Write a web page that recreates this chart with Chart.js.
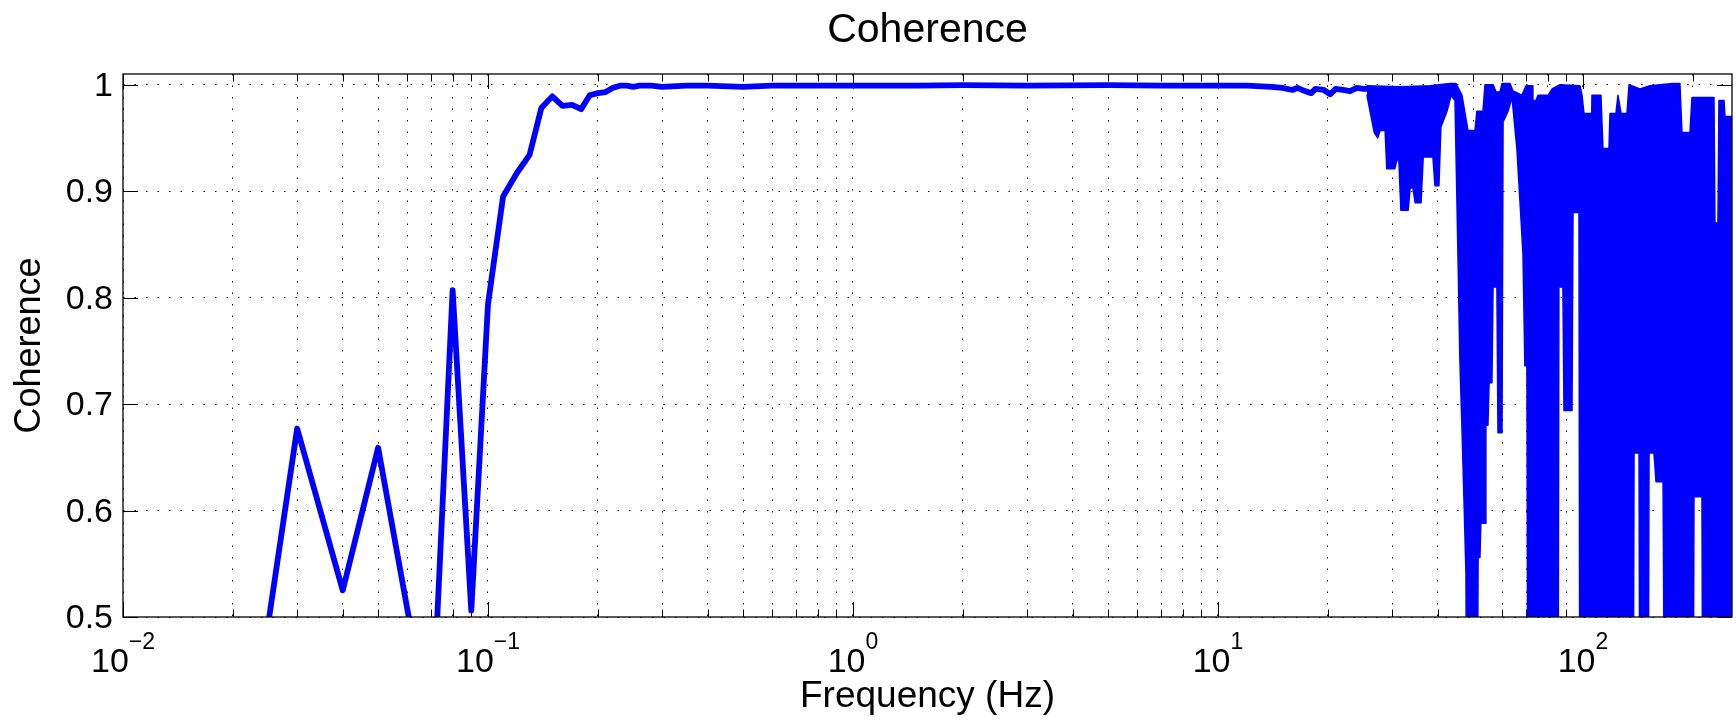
<!DOCTYPE html>
<html>
<head>
<meta charset="utf-8">
<title>Coherence</title>
<script src="https://cdn.jsdelivr.net/npm/chart.js@4.4.1/dist/chart.umd.min.js"></script>
<style>
  html, body { margin: 0; padding: 0; background: #fff; }
  #wrap { width: 1736px; height: 722px; position: relative; }
</style>
</head>
<body>
<div id="wrap"><canvas id="myChart"></canvas></div>
<script>
// coherence up to ~25 Hz
var lowFreq = [0.01, 0.02, 0.03, 0.04, 0.05, 0.06, 0.07, 0.08, 0.09, 0.10,
  0.11, 0.12, 0.13, 0.14, 0.15, 0.16, 0.17, 0.18, 0.19, 0.20,
  0.21, 0.22, 0.23, 0.24, 0.25, 0.26, 0.28, 0.30, 0.35, 0.40,
  0.50, 0.60, 0.80, 1.0, 1.5, 2, 3, 5, 7, 10,
  12, 14, 15, 16, 16.5, 17, 18, 18.5, 19.5, 20.3,
  21, 22, 23, 24, 25, 25.6];
var lowCoh = [0.2, 0.27, 0.677, 0.525, 0.659, 0.509, 0.383, 0.807, 0.506, 0.794,
  0.895, 0.917, 0.934, 0.978, 0.989, 0.980, 0.981, 0.977, 0.990, 0.992,
  0.993, 0.997, 0.999, 0.999, 0.998, 0.999, 0.999, 0.998, 0.999, 0.999,
  0.998, 0.999, 0.999, 0.999, 0.999, 0.9995, 0.999, 0.9995, 0.999, 0.999,
  0.999, 0.998, 0.997, 0.995, 0.997, 0.995, 0.992, 0.996, 0.995, 0.991,
  0.996, 0.995, 0.994, 0.997, 0.996, 0.996];

// above ~25 Hz the trace is too dense to see single points: top and bottom of the blue band
var topFreq = [25.6, 31.5, 38.1, 43.2, 44.9, 46.6, 48.4, 50.6, 51.2, 53.2,
  53.9, 56.7, 57.8, 59.2, 60.0, 63.1, 64.3, 68.0, 69.8, 72.5,
  72.9, 74.3, 75.3, 80.2, 82.3, 86.5, 98.1, 99.4, 100.6, 105.2,
  105.8, 112.0, 113.4, 117.8, 118.6, 123.1, 124.7, 127.1, 132.0, 133.7,
  143.3, 152.6, 162.5, 175.3, 184.3, 186.7, 196.4, 198.9, 228.5, 229.9,
  234.3, 235.8, 243.4, 244.9, 256];
var topCoh = [0.999, 0.998, 0.999, 1.001, 1.001, 0.99, 0.957, 0.957, 0.975, 0.975,
  1.0, 1.0, 0.993, 0.993, 1.001, 1.001, 0.994, 0.99, 0.999, 0.999,
  0.985, 0.985, 0.99, 0.99, 0.996, 1.0, 0.999, 0.99, 0.973, 0.973,
  0.99, 0.99, 0.94, 0.94, 0.973, 0.973, 0.99, 0.973, 0.973, 1.0,
  0.996, 0.999, 1.0, 1.001, 1.001, 0.955, 0.955, 0.988, 0.988, 0.87,
  0.87, 0.985, 0.985, 0.97, 0.97];

var bottomFreq = [25.6, 26.1, 26.8, 27.4, 27.8, 28.7, 29.0, 30.5, 30.9, 31.3,
  31.7, 33.2, 33.6, 34.2, 34.7, 36.0, 36.5, 38.8, 39.3, 40.3,
  40.8, 42.4, 43.5, 44.6, 45.5, 46.0, 46.6, 47.2, 47.8, 48.1,
  51.2, 51.6, 52.2, 52.5, 53.9, 54.2, 54.9, 55.3, 56.3, 56.7,
  58.1, 58.5, 60.0, 60.4, 62.3, 63.9, 65.9, 67.2, 68.5, 69.3,
  70.2, 70.7, 85.4, 85.9, 88.1, 88.7, 93.3, 93.9, 97.5, 98.1,
  137.1, 138.0, 142.4, 143.3, 150.7, 151.7, 156.5, 158.5, 165.7, 167.8,
  200.1, 201.4, 211.8, 213.2, 256];
var bottomCoh = [0.99, 0.975, 0.955, 0.95, 0.957, 0.957, 0.921, 0.921, 0.929, 0.929,
  0.882, 0.882, 0.903, 0.903, 0.889, 0.889, 0.932, 0.932, 0.905, 0.905,
  0.96, 0.975, 0.99, 0.985, 0.83, 0.741, 0.678, 0.61, 0.54, 0.3,
  0.3, 0.556, 0.556, 0.588, 0.588, 0.68, 0.68, 0.72, 0.72, 0.81,
  0.81, 0.673, 0.673, 0.965, 0.975, 0.988, 0.94, 0.89, 0.84, 0.736,
  0.736, 0.3, 0.3, 0.81, 0.81, 0.694, 0.694, 0.88, 0.88, 0.3,
  0.3, 0.654, 0.654, 0.3, 0.3, 0.654, 0.654, 0.627, 0.627, 0.3,
  0.3, 0.613, 0.613, 0.3, 0.3];

var xDecades = [0.01, 0.1, 1, 10, 100];
var xExponents = ['\u22122', '\u22121', '0', '1', '2'];
var xSteps = [1, 2, 3, 4, 5, 6, 7, 8, 9];
var yTicks = [0.5, 0.6, 0.7, 0.8, 0.9, 1];

var xMin = 0.01, xMax = 256;
var fontFamily = '"Liberation Sans", Arial, Helvetica, sans-serif';
var blue = '#0000ff';

function toPoints(xs, ys) {
  var pts = [];
  for (var i = 0; i < xs.length; i++) pts.push({x: xs[i], y: ys[i]});
  return pts;
}

var xGrid = [];
xDecades.forEach(function(d) {
  xSteps.forEach(function(s) {
    var v = Math.round(d * s * 1000) / 1000;
    if (v >= xMin && v <= xMax) xGrid.push(v);
  });
});

// matlab style box: inward ticks on all four sides, frame, 10^n labels
var matlabAxes = {
  id: 'matlabAxes',
  beforeDatasetsDraw: function(chart) {
    var ctx = chart.ctx, a = chart.chartArea;
    var xs = chart.scales.x, ys = chart.scales.y;
    ctx.save();
    ctx.strokeStyle = '#000';
    ctx.lineWidth = 1;
    ctx.beginPath();
    xGrid.forEach(function(v) {
      var px = Math.round(xs.getPixelForValue(v)) + 0.5;
      var len = xDecades.indexOf(v) >= 0 ? 15 : 7.5;
      ctx.moveTo(px, a.bottom); ctx.lineTo(px, a.bottom - len);
      ctx.moveTo(px, a.top); ctx.lineTo(px, a.top + len);
    });
    yTicks.forEach(function(v) {
      var py = Math.round(ys.getPixelForValue(v)) + 0.5;
      ctx.moveTo(a.left, py); ctx.lineTo(a.left + 15, py);
      ctx.moveTo(a.right, py); ctx.lineTo(a.right - 15, py);
    });
    ctx.stroke();
    ctx.restore();
  },
  afterDraw: function(chart) {
    var ctx = chart.ctx, a = chart.chartArea;
    var xs = chart.scales.x;
    ctx.save();
    ctx.strokeStyle = '#000';
    ctx.lineWidth = 1.3;
    ctx.strokeRect(a.left, a.top, a.right - a.left, a.bottom - a.top);

    ctx.fillStyle = '#000';
    ctx.textBaseline = 'alphabetic';
    ctx.textAlign = 'left';
    xDecades.forEach(function(d, i) {
      var px = xs.getPixelForValue(d);
      ctx.font = '34px ' + fontFamily;
      var w10 = ctx.measureText('10').width;
      ctx.font = '23px ' + fontFamily;
      var wExp = ctx.measureText(xExponents[i]).width;
      var left = px - (w10 + wExp) / 2;
      ctx.font = '34px ' + fontFamily;
      ctx.fillText('10', left, a.bottom + 55);
      ctx.font = '23px ' + fontFamily;
      ctx.fillText(xExponents[i], left + w10, a.bottom + 31.5);
    });
    ctx.restore();
  }
};

var lineBase = {
  borderColor: blue,
  pointRadius: 0,
  tension: 0,
  clip: 0,
  borderJoinStyle: 'round',
  borderCapStyle: 'round'
};

var ctx = document.getElementById('myChart').getContext('2d');
var myChart = new Chart(ctx, {
  type: 'line',
  data: {
    datasets: [
      Object.assign({}, lineBase, {data: toPoints(lowFreq, lowCoh), borderWidth: 5.8, fill: false}),
      Object.assign({}, lineBase, {data: toPoints(topFreq, topCoh), borderWidth: 1.5, fill: false}),
      Object.assign({}, lineBase, {data: toPoints(bottomFreq, bottomCoh), borderWidth: 1.5, fill: '-1', backgroundColor: blue})
    ]
  },
  options: {
    responsive: true,
    maintainAspectRatio: false,
    animation: false,
    events: [],
    layout: { padding: {left: 0, right: 4, top: 0, bottom: 0} },
    plugins: {
      legend: { display: false },
      tooltip: { enabled: false },
      title: {
        display: true,
        text: 'Coherence',
        color: '#000',
        fullSize: false,
        font: { family: fontFamily, size: 41, weight: 'normal' },
        padding: { top: 6, bottom: 18.8 }
      }
    },
    scales: {
      x: {
        type: 'logarithmic',
        min: xMin,
        max: xMax,
        afterBuildTicks: function(s) {
          s.ticks = xGrid.map(function(v) { return {value: v}; });
        },
        afterFit: function(s) { s.height = 105; },
        ticks: { autoSkip: false, maxRotation: 0, callback: function() { return ''; } },
        grid: { color: '#000', lineWidth: 1, drawTicks: false },
        border: { display: false, dash: [1.5, 10] },
        title: {
          display: true,
          text: 'Frequency (Hz)',
          color: '#000',
          font: { family: fontFamily, size: 37 },
          padding: { top: 0, bottom: 3 }
        }
      },
      y: {
        type: 'linear',
        min: 0.5,
        max: 1.01,
        afterBuildTicks: function(s) {
          s.ticks = yTicks.map(function(v) { return {value: v}; });
        },
        afterFit: function(s) { s.width = 123; },
        ticks: {
          color: '#000',
          padding: 10,
          labelOffset: 2,
          font: { family: fontFamily, size: 34 },
          callback: function(v) { return String(v); }
        },
        grid: { color: '#000', lineWidth: 1, drawTicks: false },
        border: { display: false, dash: [1.5, 10] },
        title: {
          display: true,
          text: 'Coherence',
          color: '#000',
          font: { family: fontFamily, size: 36 },
          padding: { top: 8, bottom: 0 }
        }
      }
    }
  },
  plugins: [matlabAxes]
});
</script>
</body>
</html>
